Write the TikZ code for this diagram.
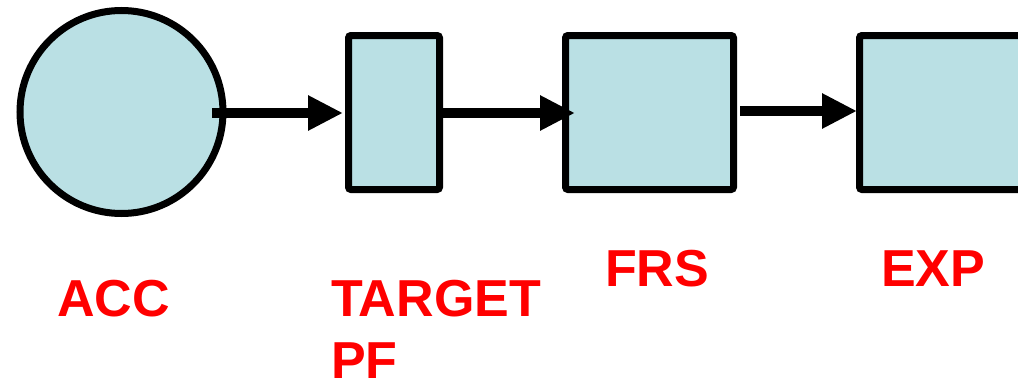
\documentclass[tikz,border=0pt]{standalone}
\usepackage{fontspec}
\setmainfont{Liberation Sans}
\usetikzlibrary{arrows.meta}
\definecolor{boxfill}{RGB}{186,224,228}
\definecolor{lblred}{RGB}{255,0,0}
\tikzset{
  shapebox/.style={draw=black, fill=boxfill, line width=7pt, inner sep=0pt, outer sep=0pt, rounded corners=2.5pt},
  flowarrow/.style={line width=10pt, -{Triangle[length=35pt,width=33pt]}},
  lbl/.style={text=lblred, font=\fontsize{52}{62}\selectfont\bfseries, inner sep=0pt, outer sep=0pt, anchor=base west, align=left}
}
\begin{document}
\begin{tikzpicture}[x=1pt,y=-1pt]
\clip (0,0) rectangle (1018,380);
\fill[white] (0,0) rectangle (1018,380);
\node[shapebox, circle, minimum size=203pt] (acc) at (121.5,112) {};
\node[shapebox, minimum width=91pt, minimum height=154pt] (tgt) at (394,112.5) {};
\node[shapebox, minimum width=168pt, minimum height=154pt] (frs) at (649.5,112.5) {};
\node[shapebox, minimum width=200pt, minimum height=154pt] (exp) at (959.5,112.5) {};
\draw[flowarrow] ([xshift=-11pt,yshift=-1pt]acc.east) -- ([xshift=-5.5pt]tgt.west |- 0,113);
\draw[flowarrow] ([xshift=3.5pt]tgt.east |- 0,113) -- ([xshift=9.5pt]frs.west |- 0,113);
\draw[flowarrow] ([xshift=6.5pt]frs.east |- 0,111) -- ([xshift=-2.5pt]exp.west |- 0,111);
\node[lbl] (accl) at (57,316) {ACC};
\node[lbl] (tgtl) at (331,378) {TARGET\\PF};
\node[lbl] (frsl) at (605,286) {FRS};
\node[lbl] (expl) at (881,286) {EXP};
\end{tikzpicture}
\end{document}
